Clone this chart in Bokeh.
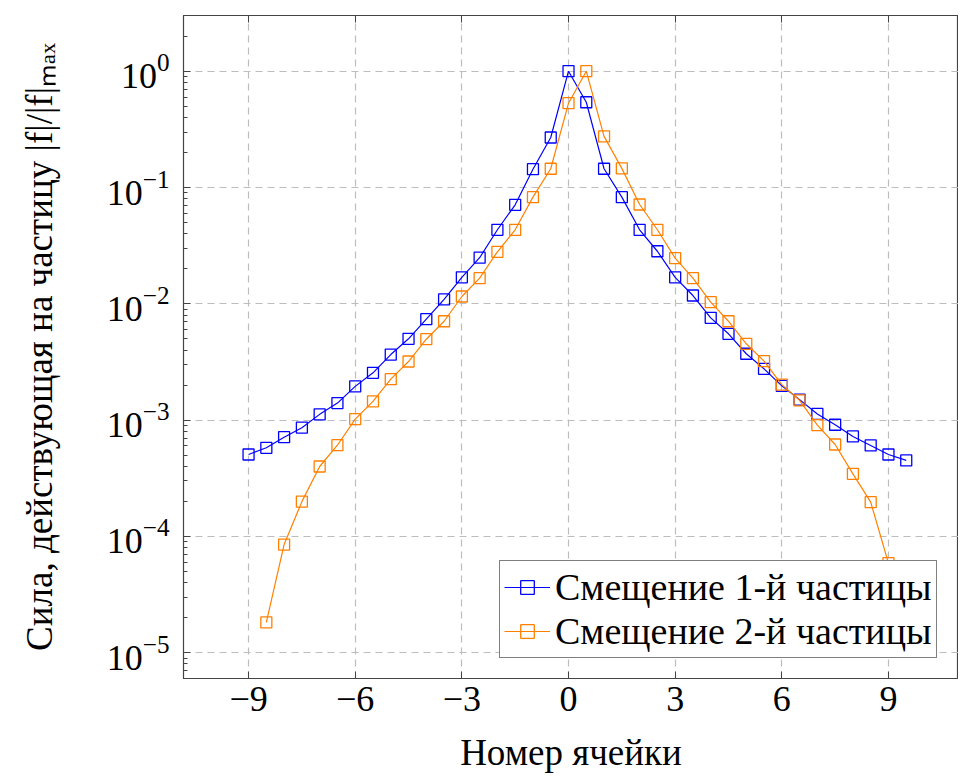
from bokeh.plotting import figure
from bokeh.models import (Range1d, FixedTicker, LinearAxis, LogTicker, Legend, LegendItem,
                          ColumnDataSource)
from bokeh.embed import file_html
from bokeh.resources import INLINE

# ---- data ----
x1 = [-9, -8.5, -8, -7.5, -7, -6.5, -6, -5.5, -5, -4.5, -4, -3.5, -3, -2.5, -2, -1.5, -1, -0.5,
      0, 0.5, 1, 1.5, 2, 2.5, 3, 3.5, 4, 4.5, 5, 5.5, 6, 6.5, 7, 7.5, 8, 8.5, 9, 9.5]
y1 = [5.06e-4, 5.78e-4, 7.13e-4, 8.6e-4, 1.12e-3, 1.40e-3, 1.95e-3, 2.55e-3, 3.66e-3, 5.0e-3,
      7.37e-3, 1.09e-2, 1.69e-2, 2.49e-2, 4.33e-2, 7.10e-2, 0.1436, 0.269,
      1.0, 0.541, 0.145, 0.0826, 0.0433, 0.0283, 0.0169, 0.01178, 7.57e-3, 5.52e-3, 3.72e-3,
      2.76e-3, 1.97e-3, 1.50e-3, 1.13e-3, 9.12e-4, 7.23e-4, 6.05e-4, 5.06e-4, 4.50e-4]

x2 = [-8.5, -8, -7.5, -7, -6.5, -6, -5.5, -5, -4.5, -4, -3.5, -3, -2.5, -2, -1.5, -1, -0.5,
      0, 0.5, 1, 1.5, 2, 2.5, 3, 3.5, 4, 4.5, 5, 5.5, 6, 6.5, 7, 7.5, 8, 8.5, 9]
y2 = [1.82e-5, 8.5e-5, 1.99e-4, 3.99e-4, 6.08e-4, 1.02e-3, 1.45e-3, 2.25e-3, 3.19e-3, 4.96e-3,
      7.08e-3, 1.155e-2, 1.66e-2, 2.80e-2, 4.33e-2, 8.26e-2, 0.145,
      0.531, 1.0, 0.275, 0.146, 0.0714, 0.0433, 0.0247, 0.0166, 0.01033, 7.08e-3, 4.53e-3,
      3.21e-3, 2.02e-3, 1.48e-3, 9.04e-4, 6.17e-4, 3.45e-4, 1.97e-4, 5.89e-5]

x_ticks = [-9, -6, -3, 0, 3, 6, 9]
y_ticks = [1e-5, 1e-4, 1e-3, 1e-2, 1e-1, 1e0]
labels = ["Смещение 1-й частицы", "Смещение 2-й частицы"]
x_label = "Номер ячейки"
y_label = "Сила, действующая на частицу |f|/|f|ₘₐₓ"

BLUE = "#0000ff"
ORANGE = "#ff8000"
FONT = "Liberation Serif"

p = figure(width=958, height=778, output_backend="svg", toolbar_location=None,
           y_axis_type="log",
           x_range=Range1d(-10.83, 10.97), y_range=Range1d(10 ** -5.222, 10 ** 0.479),
           min_border_left=183, min_border_right=0, min_border_top=15, min_border_bottom=100)

p.outline_line_color = "#444444"
p.outline_line_width = 1.2

# grid
p.xgrid.ticker = FixedTicker(ticks=x_ticks)
p.ygrid.ticker = FixedTicker(ticks=y_ticks)
for g in (p.xgrid, p.ygrid):
    g.grid_line_color = "#bdbdbd"
    g.grid_line_dash = "7 5"
    g.grid_line_width = 1.2

# x axis
xa = p.xaxis[0]
xa.ticker = FixedTicker(ticks=x_ticks)
xa.axis_label = x_label
# y axis
ya = p.yaxis[0]
ya.ticker = LogTicker(num_minor_ticks=10, desired_num_ticks=6)
ya.axis_label = y_label

for ax in (xa, ya):
    ax.axis_line_color = "#444444"
    ax.major_tick_line_color = "#444444"
    ax.minor_tick_line_color = "#444444"
    ax.major_tick_in = 7
    ax.major_tick_out = 0
    ax.minor_tick_in = 4
    ax.minor_tick_out = 0
    ax.major_label_text_font = FONT
    ax.major_label_text_font_size = "36px"
    ax.major_label_text_color = "black"
    ax.axis_label_text_font = FONT
    ax.axis_label_text_font_size = "37px"
    ax.axis_label_text_font_style = "normal"
    ax.axis_label_text_color = "black"
xa.major_label_standoff = 8
xa.axis_label_standoff = 18
ya.major_label_standoff = 14
ya.axis_label_standoff = 44

# top frame ticks (no labels)
top = LinearAxis(ticker=FixedTicker(ticks=x_ticks),
                 major_label_overrides={t: "" for t in x_ticks},
                 major_label_text_font_size="1px",
                 major_tick_in=7, major_tick_out=0, major_label_standoff=0,
                 axis_line_color="#444444", major_tick_line_color="#444444")
p.add_layout(top, "above")

src1 = ColumnDataSource(dict(x=x1, y=y1))
src2 = ColumnDataSource(dict(x=x2, y=y2))
l1 = p.line("x", "y", source=src1, line_color=BLUE, line_width=1.2)
m1 = p.scatter("x", "y", source=src1, marker="square", size=11, line_color=BLUE,
               fill_color=None, line_width=1.3)
l2 = p.line("x", "y", source=src2, line_color=ORANGE, line_width=1.2)
m2 = p.scatter("x", "y", source=src2, marker="square", size=11, line_color=ORANGE,
               fill_color=None, line_width=1.3)

legend = Legend(items=[LegendItem(label=labels[0], renderers=[l1, m1]),
                       LegendItem(label=labels[1], renderers=[l2, m2])],
                location=(316, 20))
legend.label_text_font = FONT
legend.label_text_font_size = "38px"
legend.label_text_color = "black"
legend.glyph_width = 46
legend.glyph_height = 34
legend.label_height = 34
legend.label_standoff = 5
legend.padding = 4
legend.spacing = 0
legend.border_line_color = "black"
legend.border_line_width = 1.2
legend.background_fill_color = "white"
legend.background_fill_alpha = 1.0
legend.margin = 0
p.add_layout(legend, "center")

open("out.html", "w").write(file_html(p, INLINE))
